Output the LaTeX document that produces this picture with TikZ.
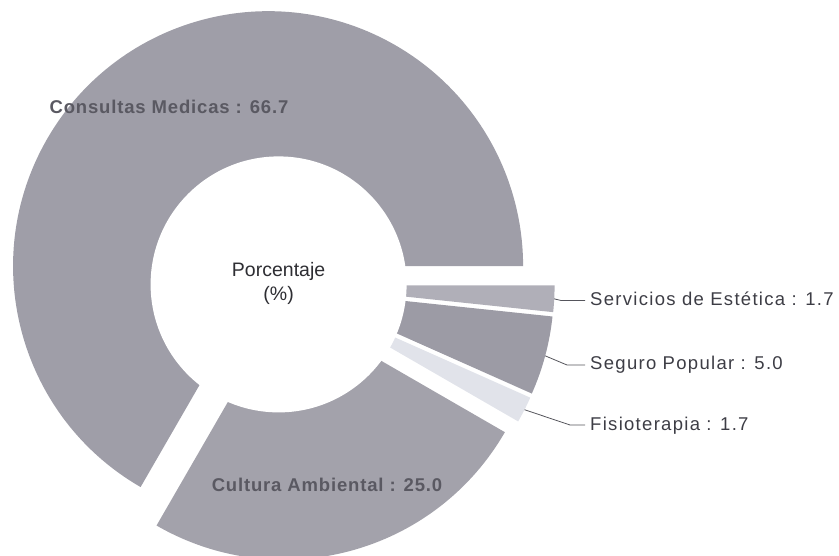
\documentclass[tikz,border=0pt]{standalone}
\usepackage{fontspec}
\setmainfont{Liberation Sans}
\newfontfamily\rlabfont[LetterSpace=7]{Liberation Sans}
\newfontfamily\slabfont[LetterSpace=4.5]{Liberation Sans}
\definecolor{cCons}{HTML}{9F9EA8}
\definecolor{cCult}{HTML}{A3A2AB}
\definecolor{cServ}{HTML}{B0AFB8}
\definecolor{cSeg}{HTML}{9C9BA5}
\definecolor{cFis}{HTML}{E1E3EA}
\definecolor{cLab}{HTML}{5A5962}
\definecolor{cRLab}{HTML}{3D3D45}
\definecolor{cCen}{HTML}{2E2E33}
\definecolor{cLead}{HTML}{55555C}
\begin{document}
\begin{tikzpicture}[x=1pt,y=-1pt,
  slicelabel/.style={font={\slabfont\bfseries\fontsize{18.5}{22}\selectfont}, text=cLab, inner sep=0pt},
  rightlabel/.style={font={\rlabfont\fontsize{18.5}{22}\selectfont}, text=cRLab, anchor=west, inner xsep=5pt, inner ysep=0pt, text height=13.5pt, text depth=3.5pt},
  centerlabel/.style={font={\fontsize{19.5}{24}\selectfont}, text=cCen, align=center, inner sep=0pt},
  leader/.style={draw=cLead, line width=0.8pt},
]
\useasboundingbox (0,0) rectangle (839,556);
\clip (0,0) rectangle (839,556);
\begin{scope}[shift={(278.6,284.4)}]
  % slices (image angles: positive = clockwise)
  \fill[cCons, shift={(240:21)}] (0,0) -- (120:255) arc[start angle=120, end angle=360, radius=255] -- cycle;
  \fill[cCult, shift={(75:21)}] (0,0) -- (30:255) arc[start angle=30, end angle=120, radius=255] -- cycle;
  \fill[cFis, shift={(27:21)}] (0,0) -- (24:255) arc[start angle=24, end angle=30, radius=255] -- cycle;
  \fill[cSeg, shift={(15:21)}] (0,0) -- (6:255) arc[start angle=6, end angle=24, radius=255] -- cycle;
  \fill[cServ, shift={(3:21)}] (0,0) -- (0:255) arc[start angle=0, end angle=6, radius=255] -- cycle;
  % donut hole
  \fill[white] (0,0) circle[radius=128];
  \node[centerlabel] (pct) at (0,-1) {Porcentaje\\(\%)};
  % leader anchor points on the slices
  \coordinate (ser-pt) at (3:276);
  \coordinate (seg-pt) at (15:276);
  \coordinate (fis-pt) at (27:276);
\end{scope}
\node[slicelabel] (cons) at (169,107) {Consultas Medicas : 66.7};
\node[slicelabel] (cult) at (327,485) {Cultura Ambiental : 25.0};
\node[rightlabel] (ser) at (585,300.5) {Servicios de Estética : 1.7};
\node[rightlabel] (seg) at (585,365) {Seguro Popular : 5.0};
\node[rightlabel] (fis) at (585,425) {Fisioterapia : 1.7};
\coordinate (ser-k) at (561,300.5);
\coordinate (seg-k) at (567,365);
\coordinate (fis-k) at (570,425);
\draw[leader] (ser-pt) -- (ser-k) -- (ser.west);
\draw[leader] (seg-pt) -- (seg-k) -- (seg.west);
\draw[leader] (fis-pt) -- (fis-k) -- (fis.west);
\end{tikzpicture}
\end{document}
